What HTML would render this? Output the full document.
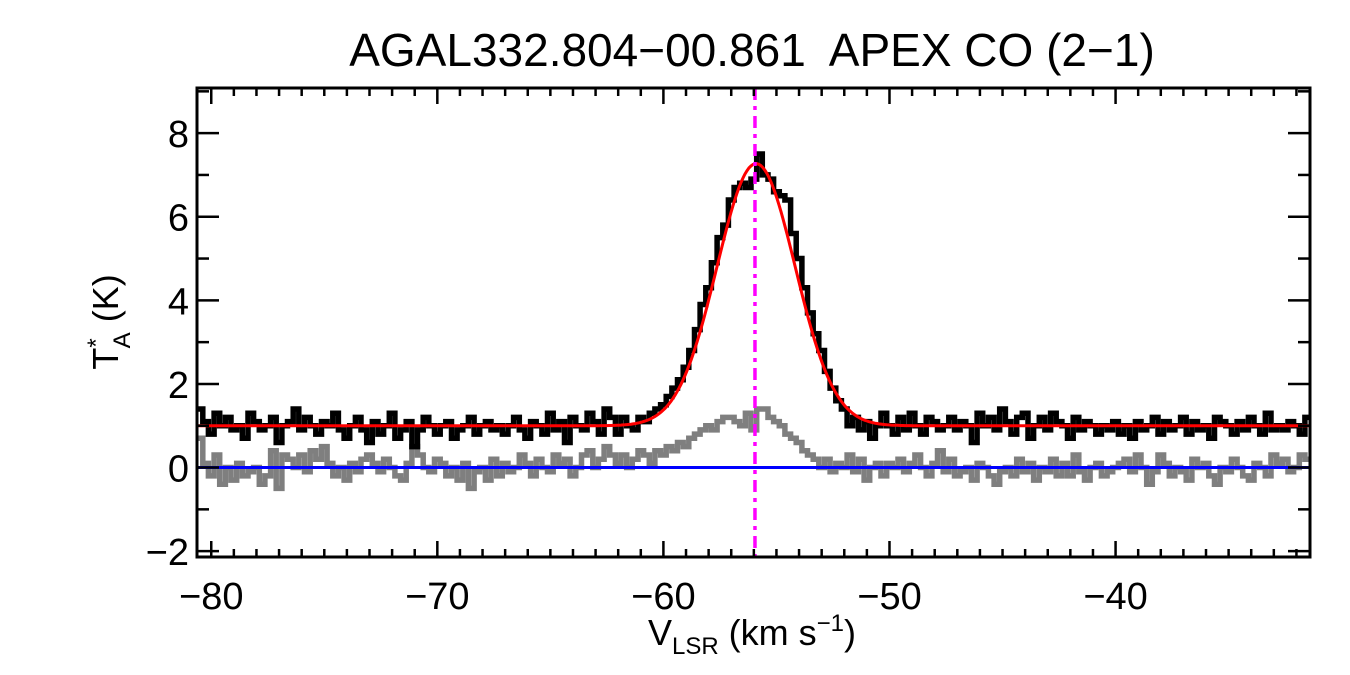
<!DOCTYPE html>
<html><head><meta charset="utf-8"><style>
html,body{margin:0;padding:0;background:#fff;}
svg{display:block;font-family:"Liberation Sans",sans-serif;}
</style></head><body>
<svg id="chart" width="1350" height="675" viewBox="0 0 1350 675" xmlns="http://www.w3.org/2000/svg">
<rect width="1350" height="675" fill="#fff"/>
<text x="752" y="66" font-size="46" text-anchor="middle">AGAL332.804−00.861&#160; APEX CO (2−1)</text>
<g id="marks"></g>
<g id="axes"></g>
<text transform="translate(118,322) rotate(-90)" font-size="36" text-anchor="middle">T<tspan font-size="24" dy="-14">*</tspan><tspan font-size="24" dx="-10" dy="26">A</tspan><tspan dy="-12"> (K)</tspan></text>
<text x="752" y="645" font-size="36" text-anchor="middle">V<tspan font-size="24" dy="9">LSR</tspan><tspan dy="-9"> (km s</tspan><tspan font-size="24" dy="-14">−1</tspan><tspan dy="14">)</tspan></text>
</svg>
<script>
const vStart = -80.5;
const vStep = 0.25;
const mainSpectrum = [
1.4,1.1,0.8,1.3,1.0,1.2,0.9,1.0,0.7,1.3,
1.1,0.9,1.0,1.2,0.6,1.0,1.1,1.4,0.9,1.2,
1.0,0.8,1.1,1.0,1.3,0.9,0.7,1.0,1.2,0.9,
0.6,1.1,0.8,1.0,1.3,0.7,0.9,1.1,0.5,0.9,
1.2,1.0,0.8,1.0,1.1,0.7,0.9,1.0,1.2,0.8,
1.0,1.1,0.9,1.0,0.8,1.0,1.2,0.9,0.7,1.1,
1.0,0.8,1.3,0.9,1.1,0.6,1.2,1.0,0.9,1.3,
1.1,0.8,1.4,1.2,
0.8,1.2,1.0,0.9,1.2,1.1,1.3,1.4,1.5,1.7,
1.9,2.1,2.4,2.8,3.3,3.9,4.3,4.9,5.5,5.8,
6.4,6.7,6.8,6.7,6.9,7.5,7.0,6.9,6.6,6.5,
6.4,5.6,5.0,4.3,3.7,3.2,2.8,2.3,1.9,1.6,
1.4,1.0,1.2,0.9,1.1,0.7,1.0,1.3,
1.0,0.8,1.2,0.9,1.3,1.0,0.8,1.2,1.1,0.9,
1.0,1.2,0.9,1.1,1.0,0.6,1.3,1.0,1.2,0.9,
1.4,1.1,0.8,1.2,1.3,0.7,1.0,1.2,0.9,1.3,
1.1,1.0,0.7,1.2,0.9,1.1,1.0,0.8,1.0,0.9,
1.1,0.8,1.0,0.7,1.1,0.9,1.0,1.2,0.8,1.1,
0.9,1.0,1.2,0.8,1.1,0.9,1.0,0.7,1.2,1.1,
1.0,0.8,1.1,0.9,1.2,1.0,0.8,1.3,0.9,1.0,
0.9,1.1,1.0,0.8,1.2
];
const residualSpectrum = [
0.7,0.1,-0.2,0.3,-0.4,0.0,-0.3,0.1,-0.2,-0.1,
0.0,-0.4,-0.2,0.4,-0.5,0.3,0.2,0.0,0.3,-0.1,
0.4,0.2,0.5,0.1,-0.2,0.0,-0.3,0.1,-0.1,0.2,
0.3,0.1,-0.1,0.2,0.0,-0.2,-0.3,0.1,0.5,0.3,
0.0,-0.1,0.2,0.1,-0.2,0.0,-0.3,0.1,-0.5,-0.1,
0.0,-0.3,0.2,-0.2,0.1,-0.1,0.0,0.3,0.1,-0.2,
0.2,0.0,-0.1,0.3,0.1,0.2,-0.2,0.0,0.3,0.4,
0.0,0.2,0.5,0.3,
0.1,0.3,0.0,0.2,0.4,0.3,0.1,0.4,
0.3,0.5,0.4,0.6,0.5,0.7,0.8,0.9,
1.0,0.9,1.1,1.2,1.2,1.1,1.0,1.3,
0.9,1.4,1.4,1.2,1.1,1.0,0.8,0.7,
0.6,0.4,0.3,0.2,0.0,0.2,-0.1,0.1,
0.0,0.3,-0.1,0.2,-0.3,0.0,0.1,-0.2,
0.1,0.0,0.2,-0.1,0.1,0.3,0.0,-0.2,0.1,0.4,
-0.1,0.2,-0.2,-0.1,0.0,-0.3,0.1,0.0,-0.2,-0.4,
-0.1,0.0,-0.2,0.2,-0.1,0.1,-0.3,0.0,-0.1,0.2,
-0.2,0.1,-0.2,0.3,-0.1,-0.3,0.0,0.1,-0.2,-0.1,
0.0,0.1,0.2,-0.1,0.3,0.0,-0.4,-0.1,0.3,0.1,
-0.2,0.0,-0.1,-0.3,0.2,0.0,0.1,-0.2,-0.4,0.0,
-0.1,0.2,0.0,-0.2,-0.3,0.1,0.0,-0.2,0.3,0.1,
0.2,-0.1,0.0,0.3,0.2
];
const fitAmplitude = 6.27;
const fitCenter = -55.9;
const fitSigma = 1.73;
const fitBaseline = 1.0;
const markerVelocity = -55.95;
const xTickValues = [-80,-70,-60,-50,-40];
const xTickLabels = ["−80","−70","−60","−50","−40"];
const yTickValues = [-2,0,2,4,6,8];
const yTickLabels = ["−2","0","2","4","6","8"];

const L=197,R=1310,T=88,B=557;
const xMin=-80.63,xMax=-31.4,yMin=-2.14,yMax=9.08;
const xs=v=>L+(v-xMin)/(xMax-xMin)*(R-L);
const ys=t=>B-(t-yMin)/(yMax-yMin)*(B-T);
const NS="http://www.w3.org/2000/svg";
const marks=document.getElementById('marks');
const axes=document.getElementById('axes');
function mk(tag,attrs,parent){const e=document.createElementNS(NS,tag);for(const k in attrs)e.setAttribute(k,attrs[k]);parent.appendChild(e);return e;}

const clip=mk('clipPath',{id:'pc'},marks);
mk('rect',{x:L,y:T,width:R-L,height:B-T},clip);

function stepPath(arr){
  let d='';
  arr.forEach((t,i)=>{
    const v0=vStart+vStep*i-vStep/2, v1=v0+vStep;
    const x0=Math.max(L,xs(v0)),x1=Math.min(R,xs(v1)),y=ys(t);
    d+=(i===0?'M':'L')+x0.toFixed(1)+','+y.toFixed(1)+'L'+x1.toFixed(1)+','+y.toFixed(1);
  });
  return d;
}
const gp=mk('path',{d:stepPath(residualSpectrum),fill:'none',stroke:'#7f7f7f','stroke-width':5.5,'clip-path':'url(#pc)'},marks);


const bp=mk('path',{d:stepPath(mainSpectrum),fill:'none',stroke:'#000','stroke-width':5.5,'clip-path':'url(#pc)'},marks);


const zl=mk('line',{x1:L,x2:R,y1:ys(0),y2:ys(0),stroke:'#0000ff','stroke-width':3},marks);


let fd='';
for(let px=L;px<=R;px+=2){const v=xMin+(px-L)/(R-L)*(xMax-xMin);const t=fitBaseline+fitAmplitude*Math.exp(-((v-fitCenter)**2)/(2*fitSigma*fitSigma));fd+=(px===L?'M':'L')+px+','+ys(t).toFixed(1);}
const fp=mk('path',{d:fd,fill:'none',stroke:'#ff0000','stroke-width':3},marks);


const ml=mk('line',{x1:xs(markerVelocity),x2:xs(markerVelocity),y1:T,y2:B,stroke:'#ff00ff','stroke-width':3.5,'stroke-dasharray':'12,6,4,6'},marks);



const frame=mk('rect',{x:L,y:T,width:R-L,height:B-T,fill:'none',stroke:'#000','stroke-width':3},axes);


for(let v=-80;v<=-32;v++){
  const major=v%10===0,len=major?16:8,x=xs(v);
  const t1=mk('line',{x1:x,x2:x,y1:B,y2:B-len,stroke:'#000','stroke-width':2.5},axes);
  
  
  const t2=mk('line',{x1:x,x2:x,y1:T,y2:T+len,stroke:'#000','stroke-width':2.5},axes);
  
  
}
for(let t=-2;t<=9;t++){
  const major=t%2===0,len=major?22:12,y=ys(t);
  const a=mk('line',{x1:L,x2:L+len,y1:y,y2:y,stroke:'#000','stroke-width':2.5},axes);
  
  
  const b=mk('line',{x1:R,x2:R-len,y1:y,y2:y,stroke:'#000','stroke-width':2.5},axes);
  
  
}
xTickValues.forEach((v,i)=>{
  const tx=mk('text',{x:xs(v),y:609,'font-size':38,'text-anchor':'middle'},axes);
  tx.textContent=xTickLabels[i];
  
  
});
yTickValues.forEach((t,i)=>{
  const tx=mk('text',{x:189,y:ys(t)+14,'font-size':38,'text-anchor':'end'},axes);
  tx.textContent=yTickLabels[i];
  
  
});
</script>
</body></html>
